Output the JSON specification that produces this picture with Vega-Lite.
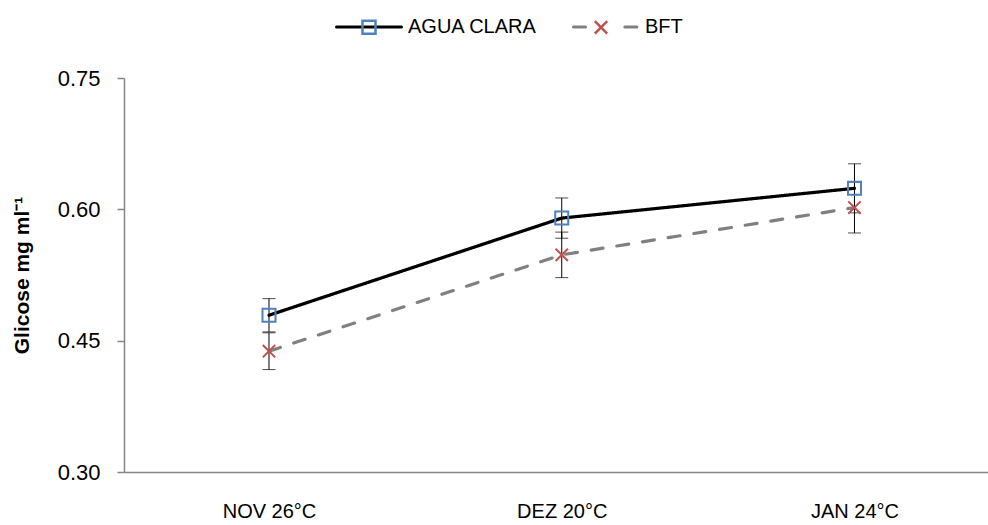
{
  "$schema": "https://vega.github.io/schema/vega-lite/v6.json",
  "width": 864,
  "height": 394,
  "autosize": {"type": "none"},
  "padding": {"left": 124, "top": 78, "right": 0, "bottom": 53},
  "background": "white",
  "config": {"font": "Liberation Sans", "view": {"stroke": null}, "axis": {"grid": false}},
  "data": {"values": [
    {"mes": "NOV 26°C", "serie": "AGUA CLARA", "media": 0.479, "erro": 0.019},
    {"mes": "DEZ 20°C", "serie": "AGUA CLARA", "media": 0.590, "erro": 0.023},
    {"mes": "JAN 24°C", "serie": "AGUA CLARA", "media": 0.624, "erro": 0.028},
    {"mes": "NOV 26°C", "serie": "BFT", "media": 0.438, "erro": 0.021},
    {"mes": "DEZ 20°C", "serie": "BFT", "media": 0.548, "erro": 0.026},
    {"mes": "JAN 24°C", "serie": "BFT", "media": 0.602, "erro": 0.029}
  ]},
  "encoding": {
    "x": {
      "field": "mes", "type": "nominal",
      "sort": ["NOV 26°C", "DEZ 20°C", "JAN 24°C"],
      "scale": {"type": "point", "padding": 0.4757, "align": 0.5206},
      "axis": {"title": null, "labelAngle": 0, "labelFontSize": 20, "labelColor": "black", "ticks": false, "tickSize": 0, "labelPadding": 29, "domainColor": "#868686", "domainWidth": 1.5}
    },
    "y": {
      "field": "media", "type": "quantitative",
      "scale": {"domain": [0.3, 0.75], "nice": false, "zero": false},
      "axis": {"values": [0.3, 0.45, 0.6, 0.75], "format": ".2f", "title": "Glicose  mg ml⁻¹", "titleFontSize": 21, "titleFontWeight": "bold", "titleColor": "black", "titlePadding": 25, "labelFontSize": 22, "labelColor": "black", "labelPadding": 17, "tickSize": 7, "tickColor": "#868686", "domainColor": "#868686", "domainWidth": 1.5, "tickWidth": 1.5}
    }
  },
  "layer": [
    {
      "mark": {"type": "line", "strokeWidth": 3.2, "strokeCap": "round"},
      "encoding": {
        "color": {
          "field": "serie", "type": "nominal",
          "scale": {"domain": ["AGUA CLARA", "BFT"], "range": ["#000000", "#808080"]},
          "legend": {
            "title": null, "orient": "none", "legendX": 211, "legendY": -85, "direction": "horizontal",
            "symbolSize": 4225, "symbolStrokeWidth": 2.5, "labelFontSize": 20, "labelColor": "black",
            "labelOffset": 5, "columnPadding": 30, "padding": 0,
            "encode": {"symbols": {"update": {
              "shape": {"signal": "datum.value === 'AGUA CLARA' ? 'M-1,0H1' : 'M-1,0H-0.55M0.58,0H1'"},
              "fill": {"value": "transparent"},
              "strokeWidth": {"value": 3},
              "strokeCap": {"value": "round"}
            }}}
          }
        },
        "strokeDash": {
          "field": "serie", "type": "nominal",
          "scale": {"domain": ["AGUA CLARA", "BFT"], "range": [[1, 0], [12, 14]]},
          "legend": null
        }
      }
    },
    {
      "mark": {"type": "errorbar", "color": "black", "ticks": {"size": 13, "thickness": 1, "color": "black"}, "rule": {"strokeWidth": 1, "color": "black"}},
      "encoding": {
        "yError": {"field": "erro"},
        "detail": {"field": "serie"}
      }
    },
    {
      "mark": {"type": "point", "filled": false, "strokeWidth": 2, "opacity": 1, "size": 4225},
      "encoding": {
        "shape": {
          "field": "serie", "type": "nominal",
          "scale": {"range": ["M-0.2,-0.2H0.2V0.2H-0.2Z", "M-0.19,-0.19L0.19,0.19M-0.19,0.19L0.19,-0.19"]},
          "legend": {
            "title": null, "orient": "none", "legendX": 211, "legendY": -85, "direction": "horizontal",
            "symbolSize": 4225, "symbolStrokeWidth": 2.5, "labelFontSize": 20, "labelExpr": "''",
            "labelOffset": 5, "columnPadding": 159, "padding": 0, "symbolFillColor": "transparent"
          }
        },
        "stroke": {
          "field": "serie", "type": "nominal",
          "scale": {"range": ["#4F81BD", "#C0504D"]},
          "legend": {
            "title": null, "orient": "none", "legendX": 211, "legendY": -85, "direction": "horizontal",
            "symbolSize": 4225, "symbolStrokeWidth": 2.5, "labelFontSize": 20, "labelExpr": "''",
            "labelOffset": 5, "columnPadding": 159, "padding": 0, "symbolFillColor": "transparent"
          }
        }
      }
    }
  ]
}
